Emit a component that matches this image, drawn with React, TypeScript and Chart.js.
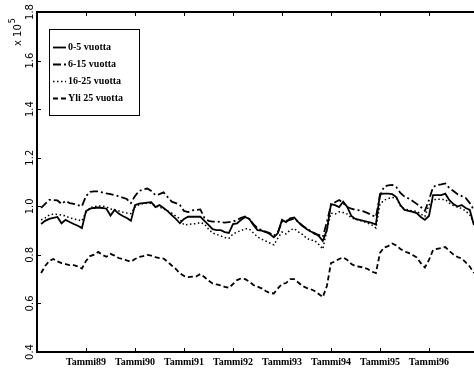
import React, { useEffect, useRef } from "react";
import { Chart, registerables } from "chart.js";

Chart.register(...registerables);

// Month index counted from January 1988 (= 0); data run Feb 1988 .. Dec 1996
const monthIndex: number[] = Array.from({ length: 107 }, (_, i) => i + 1);
const yearTickMonths = [12, 24, 36, 48, 60, 72, 84, 96];
const yearTickLabels = ["Tammi89", "Tammi90", "Tammi91", "Tammi92", "Tammi93", "Tammi94", "Tammi95", "Tammi96"];
const yTickValues = [0.4, 0.6, 0.8, 1.0, 1.2, 1.4, 1.6, 1.8];
const yTickLabels = ["0.4", "0.6", "0.8", "1.0", "1.2", "1.4", "1.6", "1.8"];
const seriesLabels = ["0-5 vuotta", "6-15 vuotta", "16-25 vuotta", "Yli 25 vuotta"];

// values in units of 10^5
const age0to5 = [
  0.927, 0.94, 0.948, 0.952, 0.956, 0.93, 0.944, 0.935, 0.927, 0.92, 0.91,
  0.98, 0.99, 0.993, 0.995, 0.993, 0.99, 0.962, 0.985, 0.97, 0.96, 0.952, 0.94,
  1.005, 1.011, 1.013, 1.015, 1.017, 0.997, 1.005, 0.993, 0.98, 0.964, 0.948, 0.93,
  0.948, 0.957, 0.957, 0.957, 0.957, 0.94, 0.923, 0.906, 0.902, 0.902, 0.894, 0.89,
  0.927, 0.93, 0.944, 0.956, 0.948, 0.923, 0.902, 0.9, 0.894, 0.886, 0.872, 0.89,
  0.944, 0.935, 0.95, 0.954, 0.935, 0.921, 0.906, 0.896, 0.89, 0.878, 0.857, 0.902,
  1.009, 1.005, 0.997, 1.019, 0.997, 0.96, 0.948, 0.944, 0.94, 0.936, 0.932, 0.925,
  1.05, 1.052, 1.052, 1.05, 1.038, 1.005, 0.985, 0.981, 0.977, 0.972, 0.956, 0.944,
  0.96, 1.046, 1.046, 1.046, 1.052, 1.025, 1.009, 0.999, 1.005, 0.993, 0.985, 0.923,
];
const age6to15 = [
  0.993, 1.01, 1.026, 1.026, 1.024, 1.01, 1.022, 1.013, 1.01, 1.005, 1.0,
  1.042, 1.059, 1.061, 1.061, 1.057, 1.053, 1.05, 1.046, 1.042, 1.036, 1.03, 1.013,
  1.042, 1.063, 1.069, 1.073, 1.063, 1.046, 1.05, 1.057, 1.038, 1.019, 1.013, 1.005,
  0.981, 0.976, 0.983, 0.985, 0.987, 0.952, 0.94, 0.937, 0.937, 0.935, 0.933, 0.935,
  0.937, 0.944, 0.952, 0.958, 0.948, 0.927, 0.91, 0.902, 0.896, 0.89, 0.878, 0.894,
  0.937, 0.94, 0.944, 0.95, 0.935, 0.919, 0.91, 0.898, 0.886, 0.882, 0.874, 0.935,
  1.005, 1.017, 1.026, 1.013, 0.997, 0.99, 0.985, 0.983, 0.979, 0.972, 0.964, 0.956,
  1.042, 1.081, 1.086, 1.088, 1.079, 1.055, 1.04, 1.032, 1.022, 1.01, 0.997, 0.981,
  1.026, 1.079, 1.088, 1.09, 1.094, 1.075, 1.063, 1.05, 1.042, 1.034, 1.013, 0.985,
];
const age16to25 = [
  0.944, 0.952, 0.964, 0.968, 0.966, 0.964, 0.96, 0.952, 0.948, 0.944, 0.94,
  0.976, 0.993, 0.999, 1.001, 1.001, 0.997, 0.989, 0.985, 0.981, 0.976, 0.972, 0.97,
  0.997, 1.007, 1.011, 1.013, 1.013, 1.001, 0.997, 0.989, 0.981, 0.972, 0.96, 0.948,
  0.923, 0.925, 0.927, 0.929, 0.933, 0.927, 0.906, 0.89, 0.884, 0.878, 0.871, 0.868,
  0.886, 0.894, 0.9, 0.908, 0.906, 0.89, 0.874, 0.865, 0.857, 0.849, 0.841, 0.869,
  0.894, 0.886, 0.902, 0.908, 0.895, 0.884, 0.869, 0.861, 0.859, 0.843, 0.824, 0.902,
  0.972, 0.968, 0.977, 0.974, 0.968, 0.952, 0.946, 0.942, 0.937, 0.931, 0.923, 0.911,
  1.009, 1.025, 1.032, 1.036, 1.034, 1.001, 0.989, 0.985, 0.981, 0.979, 0.968, 0.958,
  1.005, 1.025, 1.03, 1.028, 1.028, 1.013, 1.003, 0.997, 0.991, 0.981, 0.964, 0.931,
];
const ageOver25 = [
  0.725, 0.754, 0.775, 0.783, 0.773, 0.766, 0.762, 0.758, 0.758, 0.752, 0.744,
  0.775, 0.795, 0.801, 0.812, 0.8, 0.792, 0.804, 0.797, 0.787, 0.783, 0.777, 0.772,
  0.783, 0.791, 0.795, 0.8, 0.797, 0.791, 0.787, 0.785, 0.771, 0.756, 0.742, 0.724,
  0.713, 0.708, 0.71, 0.711, 0.721, 0.709, 0.694, 0.682, 0.678, 0.674, 0.668, 0.664,
  0.68, 0.696, 0.703, 0.7, 0.69, 0.676, 0.669, 0.662, 0.651, 0.643, 0.641, 0.662,
  0.68, 0.684, 0.7, 0.7, 0.686, 0.672, 0.664, 0.659, 0.651, 0.639, 0.626, 0.672,
  0.766, 0.773, 0.783, 0.789, 0.779, 0.762, 0.754, 0.751, 0.748, 0.742, 0.731, 0.725,
  0.808, 0.83, 0.836, 0.847, 0.839, 0.824, 0.814, 0.808, 0.799, 0.789, 0.766, 0.748,
  0.779, 0.82, 0.825, 0.828, 0.832, 0.816, 0.801, 0.791, 0.785, 0.769, 0.752, 0.725,
];

const seriesValues = [age0to5, age6to15, age16to25, ageOver25];
const seriesDash: number[][] = [[], [8, 3, 2, 3], [1.5, 2.5], [5, 3]];
const seriesWidth = [1.8, 1.8, 1.5, 1.8];

const SERIF = "'Liberation Serif', 'Times New Roman', serif";
const SANS = "'DejaVu Sans', sans-serif";

const CANVAS_W = 530;
const PX_PER_MONTH = 4.083;
const X_MAX = (CANVAS_W - 37) / PX_PER_MONTH;

const matlabFrame = {
  id: "matlabFrame",
  afterDatasetsDraw(chart: any) {
    const ctx = chart.ctx as CanvasRenderingContext2D;
    const { left, right, top, bottom } = chart.chartArea;
    const xs = chart.scales.x;
    const ys = chart.scales.y;
    ctx.save();
    ctx.strokeStyle = "#000";
    ctx.fillStyle = "#000";
    ctx.setLineDash([]);

    // axes box (its right side lies outside the visible window)
    ctx.lineWidth = 2;
    ctx.beginPath();
    ctx.moveTo(right, top);
    ctx.lineTo(left, top);
    ctx.lineTo(left, bottom);
    ctx.lineTo(right, bottom);
    ctx.stroke();

    // inward tick marks
    ctx.lineWidth = 1;
    ctx.beginPath();
    yearTickMonths.forEach((m) => {
      const px = Math.round(xs.getPixelForValue(m)) + 0.5;
      ctx.moveTo(px, bottom);
      ctx.lineTo(px, bottom - 4);
      ctx.moveTo(px, top);
      ctx.lineTo(px, top + 4);
    });
    yTickValues.forEach((v) => {
      const py = Math.round(ys.getPixelForValue(v)) + 0.5;
      ctx.moveTo(left, py);
      ctx.lineTo(left + 4, py);
    });
    ctx.stroke();

    // rotated y tick labels
    ctx.font = `10px ${SANS}`;
    ctx.textAlign = "center";
    ctx.textBaseline = "middle";
    yTickValues.forEach((v, i) => {
      const py = ys.getPixelForValue(v);
      ctx.save();
      ctx.translate(30, py);
      ctx.rotate(-Math.PI / 2);
      ctx.fillText(yTickLabels[i], 0, 0);
      ctx.restore();
    });

    // exponent label "x 10^5"
    ctx.save();
    ctx.translate(18, 46);
    ctx.rotate(-Math.PI / 2);
    ctx.textAlign = "left";
    ctx.textBaseline = "middle";
    ctx.font = `10px ${SANS}`;
    const base = "x 10";
    ctx.fillText(base, 0, 0);
    const w = ctx.measureText(base).width;
    ctx.font = `8px ${SANS}`;
    ctx.fillText("5", w + 1, -5);
    ctx.restore();

    // legend box
    const bx = 49.5, by = 29.5, bw = 90, bh = 86;
    ctx.fillStyle = "#fff";
    ctx.fillRect(bx, by, bw, bh);
    ctx.strokeStyle = "#000";
    ctx.lineWidth = 1;
    ctx.strokeRect(bx, by, bw, bh);
    ctx.fillStyle = "#000";
    ctx.font = `bold 10px ${SERIF}`;
    ctx.textAlign = "left";
    ctx.textBaseline = "middle";
    chart.data.datasets.forEach((ds: any, i: number) => {
      const cy = Math.round(47 + i * 17) + 0.5;
      ctx.save();
      ctx.lineWidth = ds.borderWidth;
      ctx.setLineDash(ds.borderDash || []);
      ctx.beginPath();
      ctx.moveTo(53, cy);
      ctx.lineTo(66, cy);
      ctx.stroke();
      ctx.restore();
      ctx.fillText(ds.label, 68, cy);
    });
    ctx.restore();
  },
};

export default function App() {
  const canvasRef = useRef<HTMLCanvasElement | null>(null);

  useEffect(() => {
    const canvas = canvasRef.current;
    if (!canvas) return;
    const datasets = seriesValues.map((vals, i) => ({
      label: seriesLabels[i],
      data: vals.map((v, k) => ({ x: monthIndex[k], y: v })),
      borderColor: "#000",
      backgroundColor: "#000",
      borderWidth: seriesWidth[i],
      borderDash: seriesDash[i],
      pointRadius: 0,
      tension: 0,
      fill: false,
    }));
    const chart = new Chart(canvas, {
      type: "line",
      data: { datasets },
      options: {
        responsive: false,
        maintainAspectRatio: false,
        devicePixelRatio: 1,
        animation: false,
        layout: { padding: { top: 12, right: 0, left: 0, bottom: 0 } },
        plugins: { legend: { display: false }, tooltip: { enabled: false } },
        scales: {
          x: {
            type: "linear",
            min: 0,
            max: X_MAX,
            grid: { display: false, drawTicks: false },
            border: { display: false },
            afterBuildTicks: (scale: any) => {
              scale.ticks = yearTickMonths.map((v) => ({ value: v }));
            },
            afterFit: (scale: any) => {
              scale.height = 24;
            },
            ticks: {
              autoSkip: false,
              maxRotation: 0,
              minRotation: 0,
              padding: 4,
              color: "#000",
              font: { family: SERIF, size: 10, weight: "bold" },
              callback: (v: any) => {
                const idx = yearTickMonths.indexOf(Number(v));
                return idx >= 0 ? yearTickLabels[idx] : "";
              },
            },
          },
          y: {
            type: "linear",
            min: 0.4,
            max: 1.8,
            grid: { display: false, drawTicks: false },
            border: { display: false },
            ticks: { display: false },
            afterFit: (scale: any) => {
              scale.width = 37;
            },
          },
        },
      },
      plugins: [matlabFrame],
    } as any);
    return () => chart.destroy();
  }, []);

  return (
    <div
      style={{
        position: "fixed",
        left: 0,
        top: 0,
        width: 474,
        height: 376,
        overflow: "hidden",
        background: "#fff",
      }}
    >
      <canvas ref={canvasRef} width={CANVAS_W} height={376} style={{ display: "block" }} />
    </div>
  );
}
